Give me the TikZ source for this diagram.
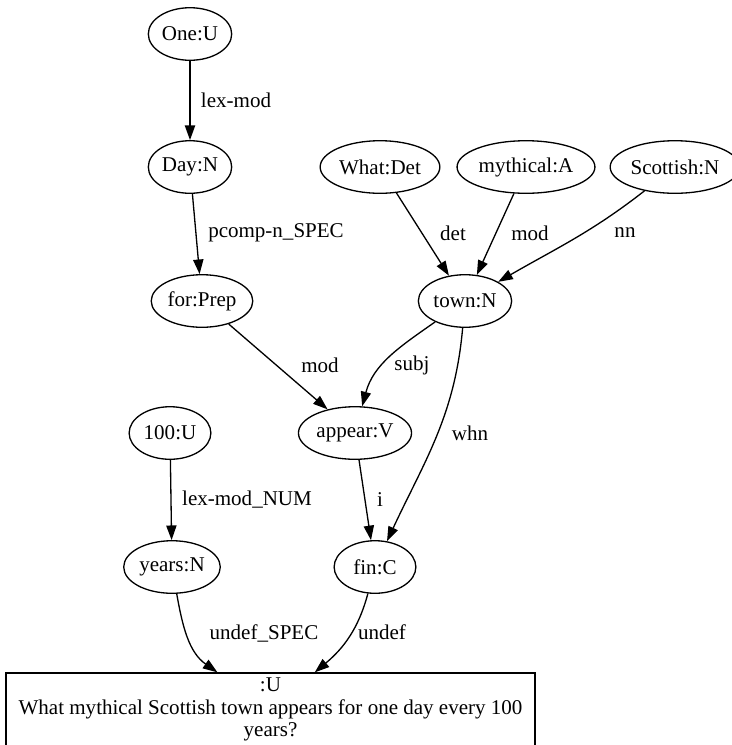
\documentclass[tikz,border=0pt]{standalone}
\usepackage{fontspec}
\setmainfont{Liberation Serif}
\usetikzlibrary{shapes.geometric,arrows.meta}
\begin{document}
\begin{tikzpicture}[x=0.685pt,y=0.685pt,
  font=\fontsize{14.4}{15.4}\selectfont,
  word/.style={draw,ellipse,line width=0.9pt,inner sep=1pt,minimum width=56pt,minimum height=36pt},
  lbl/.style={inner sep=0pt},
  dep/.style={-{Triangle[length=10pt,width=7pt]},line width=0.9pt}]
\useasboundingbox (0,0) rectangle (732,-745);
\node[word] (one) at (190,-34) {One:U};
\node[word] (day) at (190,-167) {Day:N};
\node[word] (what) at (380,-167) {What:Det};
\node[word] (mythical) at (526,-167) {mythical:A};
\node[word] (scottish) at (675,-167) {Scottish:N};
\node[word] (forprep) at (202,-301) {for:Prep};
\node[word] (town) at (465,-301) {town:N};
\node[word] (hundred) at (170,-433) {100:U};
\node[word] (appear) at (355,-433) {appear:V};
\node[word] (years) at (172,-567) {years:N};
\node[word] (fin) at (375,-567) {fin:C};
\node[draw,rectangle,line width=0.9pt,minimum width=362.4pt,minimum height=50pt,align=center,inner sep=0pt] (sent) at (270.5,-709.5)
  {:U\\What mythical Scottish town appears for one day every 100\\years?};
\draw[dep] (one) -- (day);
\draw[dep] (day) -- (forprep);
\draw[dep] (what) -- (town);
\draw[dep] (mythical) -- (town);
\draw[dep] (scottish) to[out=-142,in=30] (town);
\draw[dep] (forprep) -- (appear);
\draw[dep] (town) to[out=-145,in=75] (appear);
\draw[dep] (town) to[out=-95,in=65] (fin);
\draw[dep] (hundred) -- (years);
\draw[dep] (appear) -- (fin);
\draw[dep] (years) to[out=-80,in=145] (sent);
\draw[dep] (fin) to[out=-105,in=40] (sent);
\node[lbl] (l-lexmod) at (236,-100) {lex-mod};
\node[lbl] (l-pcomp) at (276,-233) {pcomp-n\_SPEC};
\node[lbl] (l-det) at (453,-233) {det};
\node[lbl] (l-mod) at (530,-233) {mod};
\node[lbl] (l-nn) at (625,-233) {nn};
\node[lbl] (l-modfor) at (320,-365) {mod};
\node[lbl] (l-subj) at (412,-365) {subj};
\node[lbl] (l-whn) at (470,-433) {whn};
\node[lbl] (l-lexnum) at (247,-500) {lex-mod\_NUM};
\node[lbl] (l-i) at (380,-500) {i};
\node[lbl] (l-undefspec) at (264,-633) {undef\_SPEC};
\node[lbl] (l-undef) at (382,-632) {undef};
\end{tikzpicture}
\end{document}
